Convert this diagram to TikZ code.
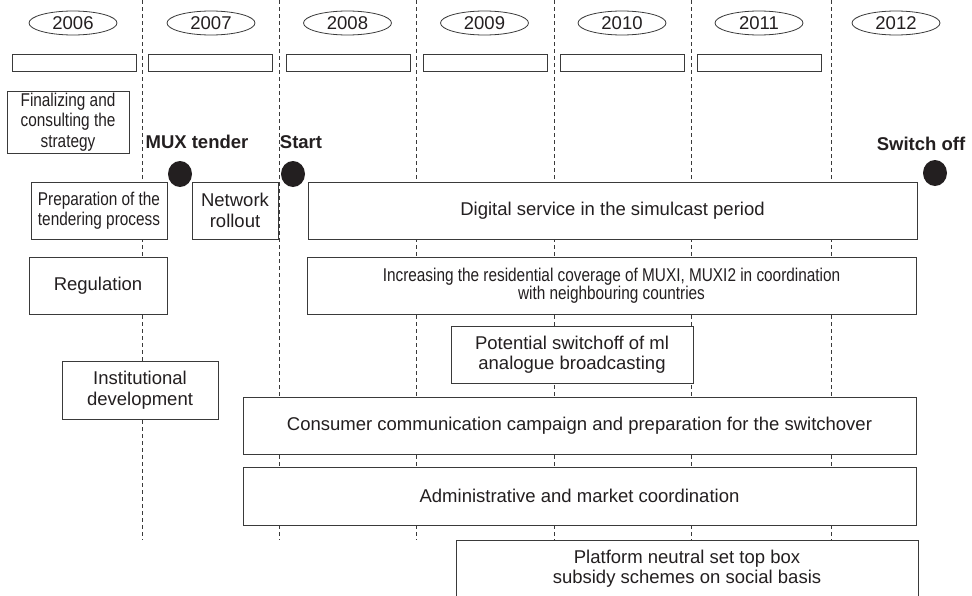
\documentclass[tikz,border=0pt]{standalone}
\usepackage{fontspec}
\setmainfont{Liberation Sans}
\newfontfamily\narrowfont[FakeStretch=0.83]{Liberation Sans}
\usetikzlibrary{shapes.geometric}

\definecolor{ink}{HTML}{231F20}
\definecolor{rule}{HTML}{3A3A3A}

\tikzset{
  yearlabel/.style={ellipse, draw=rule, line width=0.8pt, fill=white,
    minimum width=88pt, minimum height=24pt, inner sep=0pt,
    text=ink, font=\fontsize{18.5}{20}\selectfont},
  yearbar/.style={rectangle, draw=rule, line width=0.9pt, fill=white,
    minimum width=124pt, minimum height=17pt, inner sep=0pt},
  task/.style={rectangle, draw=rule, line width=0.9pt, fill=white,
    inner sep=0pt, align=center, text=ink,
    font=\fontsize{18.5}{20.5}\selectfont},
  narrowtask/.style={task, font=\narrowfont\fontsize{18.5}{20.5}\selectfont},
  milestone/.style={anchor=base, inner sep=0pt, text=ink,
    font=\bfseries\fontsize{18.5}{20}\selectfont},
  event/.style={ellipse, fill=ink, draw=none, minimum width=24pt,
    minimum height=26pt, inner sep=0pt},
  yearline/.style={draw=rule, line width=0.8pt, dash pattern=on 4pt off 3pt}
}

\begin{document}
\begin{tikzpicture}[x=1pt, y=-1pt]
\useasboundingbox (0,0) rectangle (972,595);

% year separators
\foreach \n/\xx in {1/142.5, 2/279.5, 3/416.5, 4/554, 5/691, 6/831.5} {
  \coordinate (sep\n top) at (\xx,0);
  \coordinate (sep\n bot) at (\xx,540);
  \draw[yearline] (sep\n top) -- (sep\n bot);
}

% year headings
\node[yearlabel] (y2006) at (73,23) {2006};
\node[yearlabel] (y2007) at (211,23) {2007};
\node[yearlabel] (y2008) at (347.5,23) {2008};
\node[yearlabel] (y2009) at (484.5,23) {2009};
\node[yearlabel] (y2010) at (622,23) {2010};
\node[yearlabel] (y2011) at (759,23) {2011};
\node[yearlabel] (y2012) at (896,23) {2012};

% empty year bars
\node[yearbar] (b2006) at (74,62.5) {};
\node[yearbar] (b2007) at (210,62.5) {};
\node[yearbar] (b2008) at (348,62.5) {};
\node[yearbar] (b2009) at (485,62.5) {};
\node[yearbar] (b2010) at (622,62.5) {};
\node[yearbar] (b2011) at (759.5,62.5) {};

% milestones
\node[milestone] (muxlbl) at (197,148) {MUX tender};
\node[milestone] (startlbl) at (301,148) {Start};
\node[milestone] (offlbl) at (921,150) {Switch off};
\node[event] (muxdot) at (180,174) {};
\node[event] (startdot) at (293,174) {};
\node[event] (offdot) at (935,173) {};

% activities
\node[narrowtask, minimum width=122pt, minimum height=62pt] (strategy) at (68,122)
  {Finalizing and\\consulting the\\strategy};
\node[narrowtask, minimum width=136pt, minimum height=57pt] (tendering) at (99,210.5)
  {Preparation of the\\tendering process};
\node[task, minimum width=86pt, minimum height=57pt] (rollout) at (235,210.5)
  {Network\\rollout};
\node[task, minimum width=609pt, minimum height=57pt] (simulcast) at (612.5,210.5)
  {Digital service in the simulcast period};
\node[task, minimum width=138pt, minimum height=57pt] (regulation) at (98,285.5)
  {Regulation};
\node[narrowtask, minimum width=609pt, minimum height=57pt,
      font=\narrowfont\fontsize{18.5}{16}\selectfont] (coverage) at (611.5,285.5)
  {Increasing the residential coverage of MUXI, MUXI2 in coordination\\with neighbouring countries};
\node[task, minimum width=242pt, minimum height=57pt] (analogue) at (572,354.5)
  {Potential switchoff of ml\\analogue broadcasting};
\node[task, minimum width=156pt, minimum height=58pt] (institution) at (140,390)
  {Institutional\\development};
\node[task, minimum width=673pt, minimum height=57pt] (campaign) at (579.5,425.5)
  {Consumer communication campaign and preparation for the switchover};
\node[task, minimum width=673pt, minimum height=58pt] (admin) at (579.5,496)
  {Administrative and market coordination};
\node[task, minimum width=462pt, minimum height=57pt] (subsidy) at (687,568.5)
  {Platform neutral set top box\\subsidy schemes on social basis};
\end{tikzpicture}
\end{document}
